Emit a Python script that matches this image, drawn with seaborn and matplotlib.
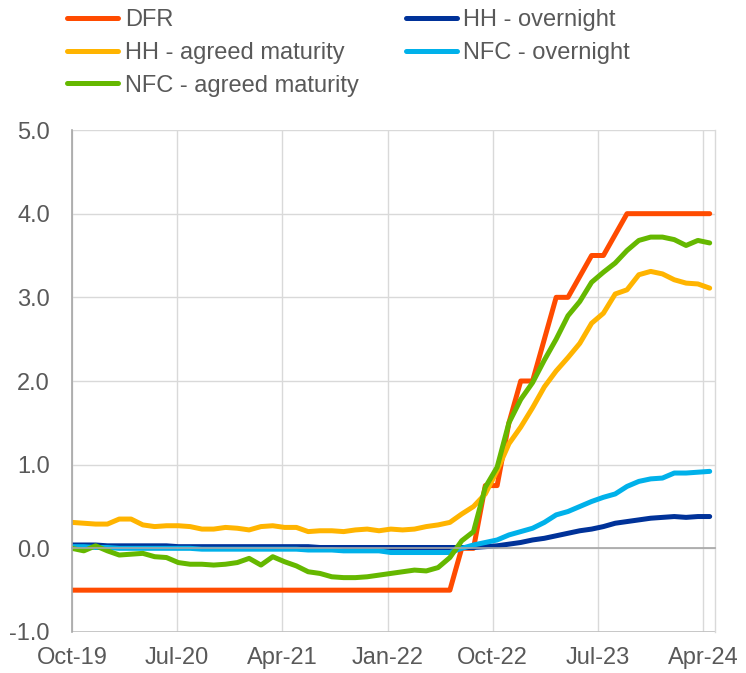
import numpy as np
import pandas as pd
import matplotlib
matplotlib.use("Agg")
import matplotlib.pyplot as plt
import seaborn as sns

# ---------------- data (monthly, Oct-19 .. Apr-24) ----------------
months = pd.period_range("2019-10", "2024-04", freq="M").strftime("%b-%y").tolist()

dfr = [-0.50, -0.50, -0.50, -0.50, -0.50, -0.50, -0.50, -0.50, -0.50, -0.50,
       -0.50, -0.50, -0.50, -0.50, -0.50, -0.50, -0.50, -0.50, -0.50, -0.50,
       -0.50, -0.50, -0.50, -0.50, -0.50, -0.50, -0.50, -0.50, -0.50, -0.50,
       -0.50, -0.50, -0.50, 0.00, 0.00, 0.75, 0.75, 1.50, 2.00, 2.00,
       2.50, 3.00, 3.00, 3.25, 3.50, 3.50, 3.75, 4.00, 4.00, 4.00,
       4.00, 4.00, 4.00, 4.00, 4.00]

hh_overnight = [0.04, 0.04, 0.04, 0.03, 0.03, 0.03, 0.03, 0.03, 0.03, 0.02,
                0.02, 0.02, 0.02, 0.02, 0.02, 0.02, 0.02, 0.02, 0.02, 0.02,
                0.02, 0.01, 0.01, 0.01, 0.01, 0.01, 0.01, 0.01, 0.01, 0.01,
                0.01, 0.01, 0.01, 0.01, 0.01, 0.02, 0.03, 0.05, 0.07, 0.10,
                0.12, 0.15, 0.18, 0.21, 0.23, 0.26, 0.30, 0.32, 0.34, 0.36,
                0.37, 0.38, 0.37, 0.38, 0.38]

hh_agreed = [0.31, 0.30, 0.29, 0.29, 0.35, 0.35, 0.28, 0.26, 0.27, 0.27,
             0.26, 0.23, 0.23, 0.25, 0.24, 0.22, 0.26, 0.27, 0.25, 0.25,
             0.20, 0.21, 0.21, 0.20, 0.22, 0.23, 0.21, 0.23, 0.22, 0.23,
             0.26, 0.28, 0.31, 0.41, 0.50, 0.65, 0.93, 1.25, 1.45, 1.68,
             1.93, 2.12, 2.28, 2.45, 2.69, 2.81, 3.04, 3.09, 3.27, 3.31,
             3.28, 3.21, 3.17, 3.16, 3.11]

nfc_overnight = [0.02, 0.02, 0.01, 0.01, 0.00, 0.00, 0.00, 0.00, 0.00, 0.00,
                 0.00, -0.01, -0.01, -0.01, -0.01, -0.01, -0.01, -0.01, -0.01, -0.01,
                 -0.02, -0.02, -0.02, -0.03, -0.03, -0.03, -0.03, -0.05, -0.05, -0.05,
                 -0.05, -0.05, -0.05, 0.00, 0.04, 0.07, 0.10, 0.16, 0.20, 0.24,
                 0.31, 0.40, 0.44, 0.50, 0.56, 0.61, 0.65, 0.74, 0.80, 0.83,
                 0.84, 0.90, 0.90, 0.91, 0.92]

nfc_agreed = [0.00, -0.03, 0.03, -0.03, -0.08, -0.07, -0.06, -0.10, -0.11, -0.17,
              -0.19, -0.19, -0.20, -0.19, -0.17, -0.12, -0.20, -0.10, -0.16, -0.21,
              -0.28, -0.30, -0.34, -0.35, -0.35, -0.34, -0.32, -0.30, -0.28, -0.26,
              -0.27, -0.23, -0.11, 0.09, 0.20, 0.73, 0.97, 1.50, 1.78, 1.98,
              2.25, 2.50, 2.78, 2.95, 3.18, 3.30, 3.41, 3.56, 3.68, 3.72,
              3.72, 3.69, 3.62, 3.68, 3.65]

series_names = ["DFR", "HH - overnight", "HH - agreed maturity",
                "NFC - overnight", "NFC - agreed maturity"]
series_values = [dfr, hh_overnight, hh_agreed, nfc_overnight, nfc_agreed]
colors = ["#FF4B00", "#003299", "#FFB400", "#00B1EA", "#65B800"]

xtick_labels = ["Oct-19", "Jul-20", "Apr-21", "Jan-22", "Oct-22", "Jul-23", "Apr-24"]
ytick_values = [-1.0, 0.0, 1.0, 2.0, 3.0, 4.0, 5.0]

# ---------------- build long table ----------------
frames = []
for name, vals in zip(series_names, series_values):
    frames.append(pd.DataFrame({"t": np.arange(len(months)), "month": months,
                                "value": vals, "series": name}))
df = pd.concat(frames, ignore_index=True)

# ---------------- plot ----------------
sns.set_theme(style="white")
plt.rcParams["font.family"] = ["Liberation Sans", "DejaVu Sans"]
TXT = "#595959"

fig = plt.figure(figsize=(7.46, 6.73), dpi=100)
ax = fig.add_axes([72 / 746, 1 - 632 / 673, (715 - 72) / 746, (632 - 130) / 673])

sns.lineplot(data=df, x="t", y="value", hue="series", hue_order=series_names,
             palette=colors, linewidth=3.6, ax=ax, legend=False,
             solid_capstyle="round", solid_joinstyle="round")

ax.set_xlim(0, 54.45)
ax.set_ylim(-1, 5)
tick_step = 8.908
ax.set_xticks([i * tick_step for i in range(len(xtick_labels))])
ax.set_xticklabels(xtick_labels)
ax.set_yticks(ytick_values)
ax.set_yticklabels([f"{v:.1f}" for v in ytick_values])
ax.set_xlabel("")
ax.set_ylabel("")

ax.grid(True, color="#D9D9D9", linewidth=1.0)
ax.set_axisbelow(True)

ax.spines["top"].set_visible(False)
ax.spines["right"].set_color("#D9D9D9")
ax.spines["right"].set_linewidth(1.0)
ax.spines["left"].set_color("#A6A6A6")
ax.spines["left"].set_linewidth(1.2)
ax.spines["bottom"].set_position(("data", 0))
ax.spines["bottom"].set_color("#A6A6A6")
ax.spines["bottom"].set_linewidth(1.2)
ax.axhline(-1, color="#BFBFBF", linewidth=1.2, zorder=1)

ax.tick_params(axis="x", direction="out", length=4, width=1.2, color="#A6A6A6",
               labelsize=17, labelcolor=TXT, pad=67)
ax.tick_params(axis="y", length=0, labelsize=17, labelcolor=TXT, pad=16)

handles = [matplotlib.lines.Line2D([], [], color=c, linewidth=3.6,
                                   solid_capstyle="round") for c in colors]
order = [0, 2, 4, 1, 3]
leg = fig.legend([handles[i] for i in order], [series_names[i] for i in order],
                 loc="upper left", bbox_to_anchor=(58 / 746, 1.0), ncol=2,
                 frameon=False, fontsize=17, handlelength=2.15, handletextpad=0.28,
                 columnspacing=2.0, labelspacing=0.45, borderaxespad=0.0)
for t in leg.get_texts():
    t.set_color(TXT)

fig.savefig("out.png", dpi=100)
